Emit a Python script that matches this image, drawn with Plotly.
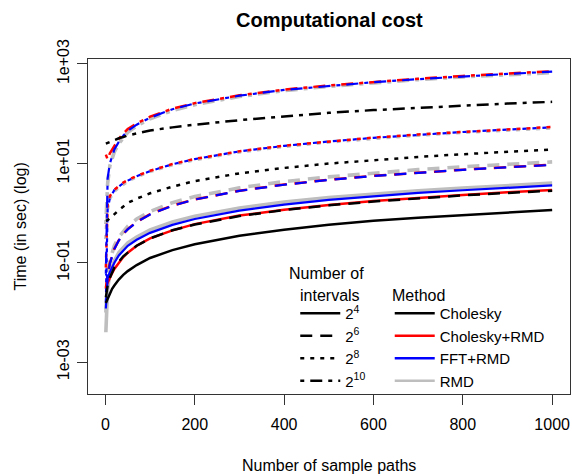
import plotly.graph_objects as go

# Number of simulated sample paths
paths = [1, 5, 10, 15, 20, 30, 40, 50, 70, 100, 150, 200, 300, 400, 500, 600, 700, 800, 900, 1000]

# Elapsed time (seconds) per method and number of intervals (2^4, 2^6, 2^8, 2^10)
chol_4 = [0.0155, 0.019, 0.024, 0.030, 0.035, 0.046, 0.057, 0.068, 0.090, 0.125, 0.18, 0.235, 0.35, 0.46, 0.58, 0.70, 0.81, 0.92, 1.04, 1.15]
chol_6 = [0.02, 0.035, 0.05, 0.065, 0.08, 0.105, 0.135, 0.16, 0.22, 0.31, 0.45, 0.59, 0.87, 1.15, 1.43, 1.71, 1.99, 2.27, 2.54, 2.82]
chol_8 = [0.7, 0.72, 0.78, 0.87, 0.95, 1.15, 1.35, 1.6, 1.95, 2.5, 3.4, 4.4, 6.3, 8.1, 9.9, 11.7, 13.5, 15.3, 17.1, 19.0]
chol_10 = [25, 26, 27, 28.5, 30, 32, 34, 36.5, 40, 46, 53, 60, 74, 89, 104, 118, 132, 146, 160, 173]

cholrmd_4 = [0.033, 0.04, 0.05, 0.062, 0.075, 0.10, 0.13, 0.16, 0.22, 0.31, 0.45, 0.60, 0.89, 1.17, 1.46, 1.74, 2.03, 2.32, 2.61, 2.9]
cholrmd_6 = [0.03, 0.06, 0.10, 0.145, 0.19, 0.285, 0.38, 0.475, 0.665, 0.95, 1.42, 1.88, 2.82, 3.75, 4.68, 5.6, 6.52, 7.45, 8.4, 9.4]
cholrmd_8 = [0.08, 1.5, 2.2, 2.6, 2.95, 3.5, 4.1, 4.6, 5.6, 7.1, 9.7, 12.3, 17.5, 22.7, 27.8, 33.0, 38.2, 43.3, 48.5, 54]
cholrmd_10 = [15, 12, 16, 19, 23, 31, 40, 49, 64, 87, 126, 163, 235, 305, 370, 437, 505, 575, 645, 715]

fftrmd_4 = [0.06, 0.05, 0.065, 0.08, 0.10, 0.14, 0.18, 0.22, 0.29, 0.40, 0.58, 0.76, 1.12, 1.48, 1.84, 2.18, 2.54, 2.88, 3.24, 3.6]
fftrmd_6 = [0.012, 0.05, 0.095, 0.14, 0.19, 0.28, 0.38, 0.47, 0.66, 0.94, 1.4, 1.87, 2.8, 3.72, 4.65, 5.57, 6.5, 7.43, 8.36, 9.3]
fftrmd_8 = [0.016, 1.2, 2.0, 2.5, 2.9, 3.4, 4.0, 4.5, 5.5, 7.0, 9.6, 12.2, 17.4, 22.5, 27.6, 32.6, 37.7, 42.8, 47.9, 53]
fftrmd_10 = [0.06, 5, 10, 14, 19, 27, 36, 45, 60, 83, 123, 160, 230, 300, 365, 430, 495, 565, 630, 700]

rmd_4 = [0.004, 0.03, 0.06, 0.085, 0.11, 0.16, 0.205, 0.25, 0.33, 0.46, 0.66, 0.86, 1.26, 1.66, 2.05, 2.42, 2.8, 3.2, 3.6, 4.0]
rmd_6 = [0.01, 0.06, 0.11, 0.165, 0.22, 0.33, 0.43, 0.54, 0.76, 1.08, 1.62, 2.15, 3.22, 4.3, 5.35, 6.42, 7.5, 8.55, 9.6, 10.7]
rmd_8 = [0.3, 1.3, 2.0, 2.4, 2.8, 3.3, 3.9, 4.4, 5.4, 6.9, 9.4, 11.9, 17.0, 22.0, 27.0, 32.0, 37.0, 42.0, 47.0, 52]
rmd_10 = [0.6, 4, 9, 13, 17, 25, 33, 42, 57, 79, 116, 152, 222, 290, 355, 420, 485, 550, 610, 670]

methods = ["Cholesky", "Cholesky+RMD", "FFT+RMD", "RMD"]
interval_labels = ["2<sup>4</sup>", "2<sup>6</sup>", "2<sup>8</sup>", "2<sup>10</sup>"]
x_ticks = [0, 200, 400, 600, 800, 1000]
y_ticks = [1e-3, 1e-1, 1e1, 1e3]
y_tick_text = ["1e-03", "1e-01", "1e+01", "1e+03"]

timings = {
    "Cholesky": [chol_4, chol_6, chol_8, chol_10],
    "Cholesky+RMD": [cholrmd_4, cholrmd_6, cholrmd_8, cholrmd_10],
    "FFT+RMD": [fftrmd_4, fftrmd_6, fftrmd_8, fftrmd_10],
    "RMD": [rmd_4, rmd_6, rmd_8, rmd_10],
}

colors = {"Cholesky": "#000000", "Cholesky+RMD": "#FF0000", "FFT+RMD": "#0000FF", "RMD": "#BEBEBE"}
widths = {"Cholesky": 2.5, "Cholesky+RMD": 2.5, "FFT+RMD": 2.2, "RMD": 3.6}
dashes = ["solid", "12px,8px", "4px,6px", "4px,6px,12px,6px"]

FONT = "Liberation Sans, Arial, sans-serif"

fig = go.Figure()

# grey drawn first so the other methods sit on top of it
for method in ["RMD", "Cholesky+RMD", "FFT+RMD", "Cholesky"]:
    for series, dash in zip(timings[method], dashes):
        fig.add_trace(go.Scatter(
            x=paths, y=series, mode="lines", showlegend=False, hoverinfo="skip",
            line=dict(color=colors[method], width=widths[method], dash=dash),
        ))

# legend keys: line type = number of intervals, colour = method
for label, dash in zip(interval_labels, dashes):
    fig.add_trace(go.Scatter(
        x=[None], y=[None], mode="lines", name=label, legend="legend",
        line=dict(color="#000000", width=2.5, dash=dash),
    ))
for method in methods:
    fig.add_trace(go.Scatter(
        x=[None], y=[None], mode="lines", name=method, legend="legend2",
        line=dict(color=colors[method], width=2.5),
    ))

legend_style = dict(
    xanchor="left", yanchor="bottom", bgcolor="rgba(0,0,0,0)", borderwidth=0,
    font=dict(family=FONT, size=15, color="#000000"), itemwidth=40,
    tracegroupgap=0, itemclick=False, itemdoubleclick=False,
)

axis_common = dict(
    showgrid=False, zeroline=False, showline=True, mirror=True,
    linecolor="#333333", linewidth=1, ticks="outside", ticklen=10,
    tickcolor="#333333", tickwidth=1,
    tickfont=dict(family=FONT, size=16, color="#000000"),
)

fig.update_layout(
    width=572, height=476,
    margin=dict(l=88, r=2, t=59, b=82),
    paper_bgcolor="white", plot_bgcolor="white",
    font=dict(family=FONT, size=16, color="#000000"),
    xaxis=dict(range=[-38.96, 1039.96], tickvals=x_ticks, ticklabelstandoff=6, **axis_common),
    yaxis=dict(type="log", range=[-3.64, 3.10], tickvals=y_ticks, ticktext=y_tick_text,
               tickangle=-90, ticklabelstandoff=2, **axis_common),
    legend=dict(x=0.43, y=-0.009, **legend_style),
    legend2=dict(x=0.626, y=-0.009, **legend_style),
    annotations=[
        dict(text="<b>Computational cost</b>", xref="paper", yref="paper",
             x=0.502, y=1.116, xanchor="center", yanchor="middle", showarrow=False,
             font=dict(family=FONT, size=20, color="#000000")),
        dict(text="Number of sample paths", xref="paper", yref="paper",
             x=0.5, y=-0.212, xanchor="center", yanchor="middle", showarrow=False,
             font=dict(family=FONT, size=16, color="#000000")),
        dict(text="Time (in sec) (log)", xref="paper", yref="paper",
             x=-0.141, y=0.5, xanchor="center", yanchor="middle", showarrow=False,
             textangle=-90, font=dict(family=FONT, size=16, color="#000000")),
        dict(text="Number of", xref="paper", yref="paper",
             x=(326 - 88) / 482, y=(394 - 273) / 335, xanchor="center", yanchor="middle",
             showarrow=False, font=dict(family=FONT, size=16, color="#000000")),
        dict(text="intervals", xref="paper", yref="paper",
             x=(330 - 88) / 482, y=(394 - 295) / 335, xanchor="center", yanchor="middle",
             showarrow=False, font=dict(family=FONT, size=16, color="#000000")),
        dict(text="Method", xref="paper", yref="paper",
             x=(418 - 88) / 482, y=(394 - 295) / 335, xanchor="center", yanchor="middle",
             showarrow=False, font=dict(family=FONT, size=16, color="#000000")),
    ],
)

fig.write_html("out.html")
